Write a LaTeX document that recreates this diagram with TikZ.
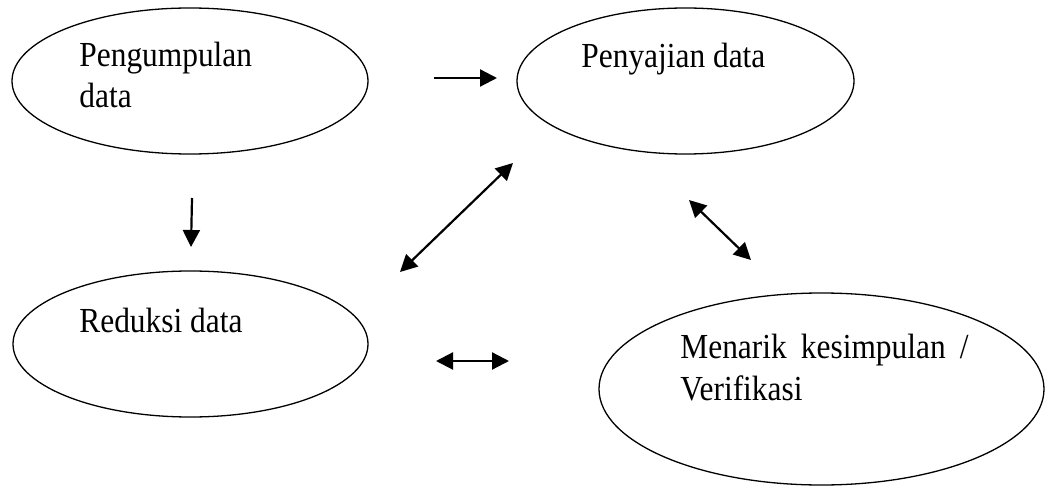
\documentclass[tikz,border=0pt]{standalone}
\usepackage{fontspec}
\setmainfont{Liberation Serif}
\usetikzlibrary{shapes.geometric,arrows.meta}
\newcommand{\tall}[1]{\scalebox{1}[1.12]{#1}}
\begin{document}
\begin{tikzpicture}[x=0.5pt,y=-0.5pt,
  stage/.style={draw,ellipse,line width=0.65pt,inner sep=0pt},
  lbl/.style={anchor=base west,inner sep=0pt,font=\fontsize{15.7pt}{19pt}\selectfont},
  tip/.tip={Triangle[length=8.5pt,width=8.5pt]},
  flow/.style={line width=1.1pt,-tip},
  both/.style={line width=1.1pt,tip-tip}]
\useasboundingbox (0,0) rectangle (1059,486);

% stages
\node[stage,minimum width=178pt,minimum height=73pt] (kumpul) at (190,81) {};
\node[stage,minimum width=168.5pt,minimum height=73pt] (saji) at (685.5,81) {};
\node[stage,minimum width=177.5pt,minimum height=73pt] (reduksi) at (190.5,344) {};
\node[stage,minimum width=222.5pt,minimum height=96pt] (simpul) at (821.5,389) {};

% labels
\node[lbl] (tkumpul1) at (79,67) {\tall{Pengumpulan}};
\node[lbl] (tkumpul2) at (79,108) {\tall{data}};
\node[lbl] (tsaji) at (581,68) {\tall{Penyajian data}};
\node[lbl] (treduksi) at (79,332) {\tall{Reduksi data}};
\node[lbl] (tsimpul1) at (680,358) {\tall{Menarik\hspace{0.45em}kesimpulan\hspace{0.45em}/}};
\node[lbl] (tsimpul2) at (680,400) {\tall{Verifikasi}};

% free-standing arrows
\coordinate (a1) at (434,78);  \coordinate (b1) at (497,78);
\coordinate (a2) at (192,198); \coordinate (b2) at (191,247);
\coordinate (a3) at (400,272); \coordinate (b3) at (513,163);
\coordinate (a4) at (689,200); \coordinate (b4) at (751,260);
\coordinate (a5) at (436,361); \coordinate (b5) at (509,361);

\draw[flow] (a1) -- (b1);
\draw[flow] (a2) -- (b2);
\draw[both] (a3) -- (b3);
\draw[both] (a4) -- (b4);
\draw[both] (a5) -- (b5);
\end{tikzpicture}
\end{document}
